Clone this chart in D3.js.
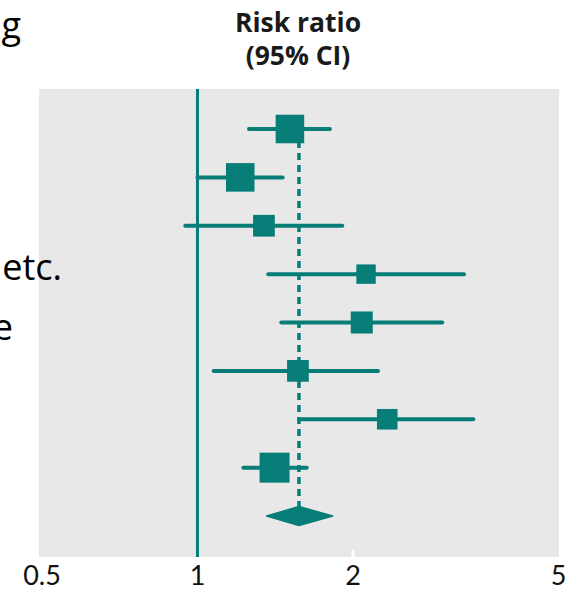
<!DOCTYPE html>
<html><head><meta charset="utf-8">
<script src="https://cdn.jsdelivr.net/npm/d3@7"></script>
<style>body{margin:0;background:#fff}svg{display:block}</style>
</head><body>
<script>
// data
const studies = ["1","2","3","4","5","6","7","8"];
const estimates = [1.51, 1.21, 1.345, 2.12, 2.08, 1.565, 2.33, 1.41];
const lower     = [1.258, 1.00, 0.947, 1.371, 1.453, 1.075, 1.574, 1.227];
const upper     = [1.805, 1.462, 1.907, 3.281, 2.978, 2.236, 3.42, 1.627];
const weights   = [17.1, 17.1, 9.9, 7.9, 10.2, 9.9, 8.9, 18.9];
const pooled = {est: 1.572, lo: 1.361, hi: 1.827};
const tickValues = [0.5, 1, 2, 5];
const tickLabels = ["0.5", "1", "2", "5"];

const W = 566, H = 591;
const teal = "#077d77";
const svg = d3.select("body").append("svg").attr("width", W).attr("height", H);

const panel = {x0: 39, x1: 559, y0: 89, y1: 557};
const x = d3.scaleLog().domain([0.5, 5]).range([42, 558.5]);
const rows = studies.concat(["pooled"]);
const y = d3.scalePoint().domain(rows).range([129, 516]);
const size = d3.scaleSqrt().domain([0, d3.max(weights)]).range([0, 30]);

svg.append("rect").attr("x", panel.x0).attr("y", panel.y0)
  .attr("width", panel.x1 - panel.x0).attr("height", panel.y1 - panel.y0)
  .attr("fill", "#e8e8e8");

// white tick marks at bottom
svg.append("g").selectAll("line").data(tickValues.filter(v => v === 2)).join("line")
  .attr("x1", d => x(d)).attr("x2", d => x(d))
  .attr("y1", panel.y1 - 7).attr("y2", panel.y1)
  .attr("stroke", "#fff").attr("stroke-width", 3);

// line of no effect
svg.append("line").attr("x1", x(1)).attr("x2", x(1))
  .attr("y1", panel.y0).attr("y2", panel.y1)
  .attr("stroke", teal).attr("stroke-width", 3);

// pooled dashed line
svg.append("line").attr("x1", x(pooled.est)).attr("x2", x(pooled.est))
  .attr("y1", y(studies[0])).attr("y2", y("pooled") - 9)
  .attr("stroke", teal).attr("stroke-width", 3.5).attr("stroke-dasharray", "7,5");

const data = studies.map((s, i) => ({s, est: estimates[i], lo: lower[i], hi: upper[i], w: weights[i]}));

svg.append("g").selectAll("line").data(data).join("line")
  .attr("x1", d => x(d.lo)).attr("x2", d => x(d.hi))
  .attr("y1", d => y(d.s)).attr("y2", d => y(d.s))
  .attr("stroke", teal).attr("stroke-width", 4).attr("stroke-linecap", "round");

svg.append("g").selectAll("rect").data(data).join("rect")
  .attr("x", d => x(d.est) - size(d.w) / 2)
  .attr("y", d => y(d.s) - size(d.w) / 2)
  .attr("width", d => size(d.w)).attr("height", d => size(d.w))
  .attr("fill", teal);

// diamond
const yp = y("pooled");
svg.append("path")
  .attr("d", `M${x(pooled.lo)},${yp} L${x(pooled.est)},${yp - 9.5} L${x(pooled.hi)},${yp} L${x(pooled.est)},${yp + 9.5} Z`)
  .attr("fill", teal).attr("stroke", teal).attr("stroke-width", 1.5).attr("stroke-linejoin", "round");

// tick labels
svg.append("g").selectAll("text").data(tickValues).join("text")
  .attr("x", d => x(d)).attr("y", 585)
  .attr("text-anchor", "middle")
  .attr("font-family", "Lato, sans-serif").attr("font-size", 27).attr("fill", "#111")
  .text((d, i) => tickLabels[i]);

// title
const title = svg.append("text").attr("text-anchor", "middle")
  .attr("font-family", "Open Sans, sans-serif").attr("font-weight", "bold")
  .attr("font-size", 26.5).attr("fill", "#1a1a1a");
title.append("tspan").attr("x", 298).attr("y", 32).text("Risk ratio");
title.append("tspan").attr("x", 298).attr("y", 65).text("(95% CI)");

// clipped slide text on the left
const side = [{t: "g", x: 21, y: 38}, {t: "etc.", x: 62, y: 280}, {t: "e", x: 13, y: 340}];
svg.append("g").selectAll("text").data(side).join("text")
  .attr("x", d => d.x).attr("y", d => d.y).attr("text-anchor", "end")
  .attr("font-family", "Open Sans, sans-serif").attr("font-size", 36).attr("fill", "#000")
  .text(d => d.t);
</script>
</body></html>
